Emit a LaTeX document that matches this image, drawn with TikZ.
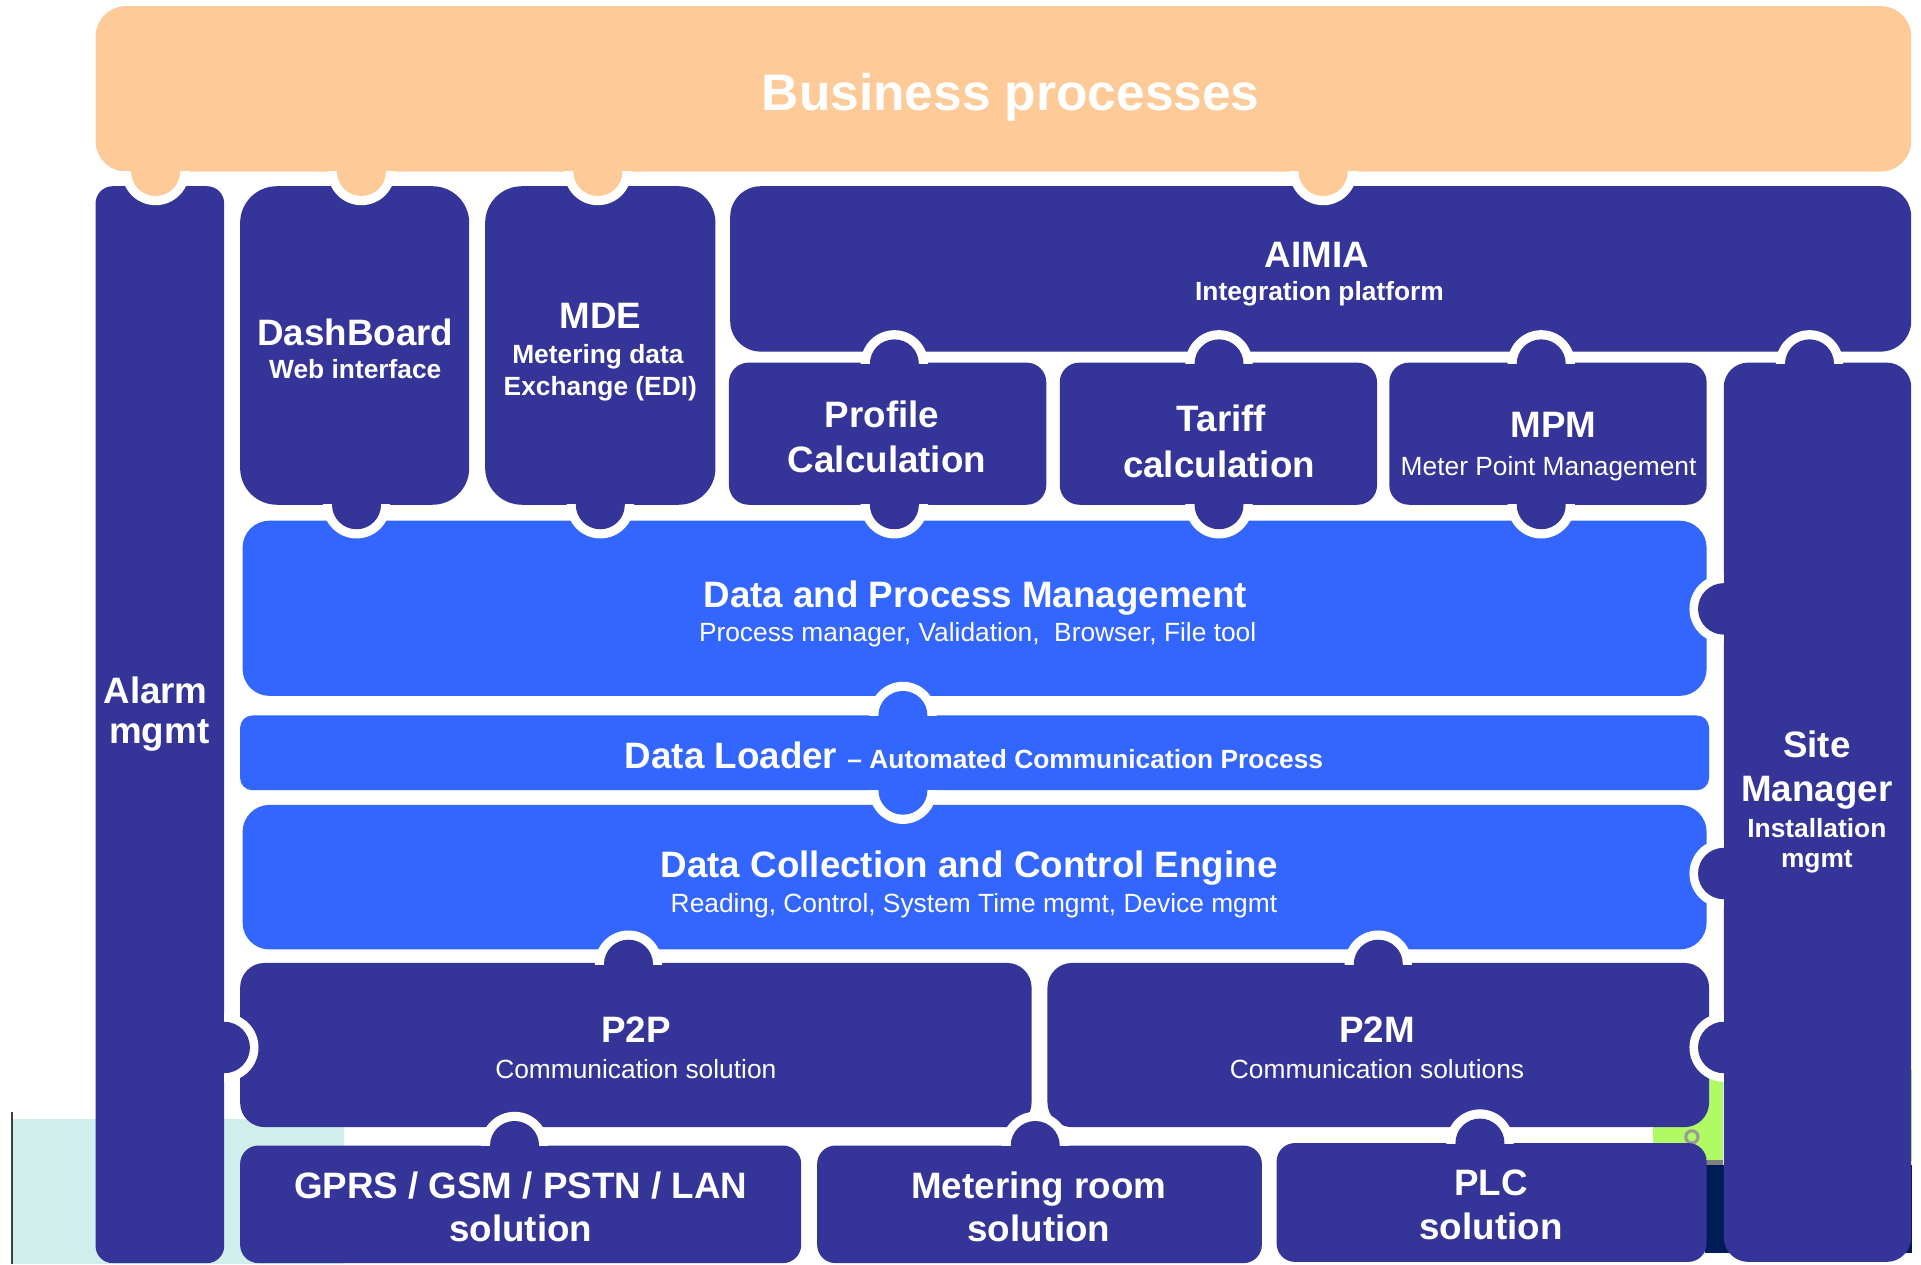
\documentclass[tikz,border=0pt]{standalone}
\usepackage{fontspec}
\setmainfont{Liberation Sans}
\definecolor{navy}{RGB}{53,52,152}
\definecolor{bblue}{RGB}{51,102,255}
\definecolor{peach}{RGB}{254,202,152}
\definecolor{lcyan}{RGB}{207,238,236}
\definecolor{lgreen}{RGB}{176,250,100}
\definecolor{dnavy}{RGB}{0,28,86}
\newcommand\fntHuge{\fontsize{42}{48}\selectfont\bfseries}
\newcommand\fntBig{\fontsize{30}{36}\selectfont\bfseries}
\newcommand\fntSub{\fontsize{21.5}{26}\selectfont\bfseries}
\newcommand\fntReg{\fontsize{21.5}{26}\selectfont}
% vertical knob: colour, x, edge y, far y (receiver side)
\newcommand\knobv[4]{%
  \begin{scope}\clip (#2-45,#3) rectangle (#2+45,#4);
    \fill[white] (#2,#3) circle[radius=27.5pt];\end{scope}
  \fill[#1] (#2,#3) circle[radius=20pt];}
% horizontal knob: colour, edge x, y, far x (receiver side)
\newcommand\knobh[4]{%
  \begin{scope}\clip (#2,#3-45) rectangle (#4,#3+45);
    \fill[white] (#2,#3) circle[radius=28pt];\end{scope}
  \fill[#1] (#2,#3) circle[radius=21pt];}
\begin{document}
\begin{tikzpicture}[x=1pt,y=-1pt,
  piece/.style={inner sep=0pt, outer sep=0pt, anchor=north west, draw=none},
  txt/.style={text=white, anchor=base, inner sep=0pt}]
\useasboundingbox (0,0) rectangle (1568,1032);
\fill[white] (0,0) rectangle (1568,1032);
% background remnants
\fill[lcyan] (10,913) rectangle (281,1032);
\draw[line width=1.5pt, black!75] (10,908) -- (10,1032);
\fill[lgreen] (1349,876) rectangle (1406,947);
\fill[lgreen] (1556,873) rectangle (1561,948);
\fill[gray] (1392,947) rectangle (1406,951);
\fill[dnavy] (1392,951) rectangle (1561,1023);
\draw[line width=2.5pt, gray!80] (1381,928) circle[radius=5pt];
% pieces
\node[piece, fill=peach, rounded corners=25pt, minimum width=1482pt, minimum height=135pt] (business) at (78,5) {};
\node[piece, fill=navy, rounded corners=14pt, minimum width=105pt, minimum height=879pt] (alarm) at (78,152) {};
\node[piece, fill=navy, rounded corners=30pt, minimum width=187pt, minimum height=260pt] (dash) at (196,152) {};
\node[piece, fill=navy, rounded corners=30pt, minimum width=188pt, minimum height=260pt] (mde) at (396,152) {};
\node[piece, fill=navy, rounded corners=25pt, minimum width=964pt, minimum height=135pt] (aimia) at (596,152) {};
\node[piece, fill=navy, rounded corners=16pt, minimum width=259pt, minimum height=116pt] (profile) at (595,296) {};
\node[piece, fill=navy, rounded corners=16pt, minimum width=259pt, minimum height=116pt] (tariff) at (865,296) {};
\node[piece, fill=navy, rounded corners=16pt, minimum width=259pt, minimum height=116pt] (mpm) at (1134,296) {};
\node[piece, fill=navy, rounded corners=20pt, minimum width=153pt, minimum height=734pt] (site) at (1407,296) {};
\node[piece, fill=bblue, rounded corners=22pt, minimum width=1195pt, minimum height=143pt] (dpm) at (198,425) {};
\node[piece, fill=bblue, rounded corners=10pt, minimum width=1199pt, minimum height=61pt] (loader) at (196,584) {};
\node[piece, fill=bblue, rounded corners=22pt, minimum width=1195pt, minimum height=118pt] (dcce) at (198,657) {};
\node[piece, fill=navy, rounded corners=20pt, minimum width=646pt, minimum height=134pt] (p2p) at (196,786) {};
\node[piece, fill=navy, rounded corners=20pt, minimum width=540pt, minimum height=134pt] (p2m) at (855,786) {};
\node[piece, fill=navy, rounded corners=15pt, minimum width=458pt, minimum height=96pt] (gprs) at (196,935) {};
\node[piece, fill=navy, rounded corners=15pt, minimum width=363pt, minimum height=96pt] (meter) at (667,935) {};
\node[piece, fill=navy, rounded corners=15pt, minimum width=351pt, minimum height=97pt] (plc) at (1042,933) {};
% knobs
\knobv{peach}{127}{140}{190}
\knobv{peach}{295}{140}{190}
\knobv{peach}{488}{140}{190}
\knobv{peach}{1080}{140}{190}
\knobv{navy}{291}{412}{460}
\knobv{navy}{490}{412}{460}
\knobv{navy}{730}{412}{460}
\knobv{navy}{995}{412}{460}
\knobv{navy}{1258}{412}{460}
\knobv{navy}{730}{297}{250}
\knobv{navy}{995}{297}{250}
\knobv{navy}{1258}{297}{250}
\knobv{navy}{1477}{297}{250}
\knobv{bblue}{737}{584}{540}
\knobv{bblue}{737}{645}{690}
\knobv{navy}{513}{787}{740}
\knobv{navy}{1125}{787}{740}
\knobv{navy}{420}{935}{880}
\knobv{navy}{845}{935}{880}
\knobv{navy}{1208}{933}{880}
\knobh{navy}{1407}{497}{1360}
\knobh{navy}{1407}{713}{1360}
\knobh{navy}{1407}{855}{1360}
\knobh{navy}{183}{855}{230}
% texts
\node[txt] (tbus) at (825,90) {\fntHuge Business processes};
\node[txt] (tal1) at (127,574) {\fntBig Alarm};
\node[txt] (tal2) at (130,607) {\fntBig mgmt};
\node[txt] (tda1) at (290,282) {\fntBig DashBoard};
\node[txt] (tda2) at (290,309) {\fntSub Web interface};
\node[txt] (tmd1) at (490,268) {\fntBig MDE};
\node[txt] (tmd2) at (488,297) {\fntSub Metering data};
\node[txt] (tmd3) at (490,323) {\fntSub Exchange (EDI)};
\node[txt] (tai1) at (1075,218) {\fntBig AIMIA};
\node[txt] (tai2) at (1077,245) {\fntSub Integration platform};
\node[txt] (tpr1) at (720,349) {\fntBig Profile};
\node[txt] (tpr2) at (724,386) {\fntBig Calculation};
\node[txt] (tta1) at (997,352) {\fntBig Tariff};
\node[txt] (tta2) at (995,390) {\fntBig calculation};
\node[txt] (tmp1) at (1268,357) {\fntBig MPM};
\node[txt] (tmp2) at (1264,388) {\fntReg Meter Point Management};
\node[txt] (tsi1) at (1483,618) {\fntBig Site};
\node[txt] (tsi2) at (1483,654) {\fntBig Manager};
\node[txt] (tsi3) at (1483,684) {\fntSub Installation};
\node[txt] (tsi4) at (1483,708) {\fntSub mgmt};
\node[txt] (tdp1) at (796,496) {\fntBig Data and Process Management};
\node[txt] (tdp2) at (798,524) {\fntReg Process manager, Validation,\ \ Browser, File tool};
\node[txt] (tlo) at (795,627) {\fntBig Data Loader \fntSub -- Automated Communication Process};
\node[txt] (tdc1) at (791,716) {\fntBig Data Collection and Control Engine};
\node[txt] (tdc2) at (795,745) {\fntReg Reading, Control, System Time mgmt, Device mgmt};
\node[txt] (tpp1) at (519,851) {\fntBig P2P};
\node[txt] (tpp2) at (519,880) {\fntReg Communication solution};
\node[txt] (tpm1) at (1124,851) {\fntBig P2M};
\node[txt] (tpm2) at (1124,880) {\fntReg Communication solutions};
\node[txt] (tgp1) at (425,978) {\fntBig GPRS / GSM / PSTN / LAN};
\node[txt] (tgp2) at (425,1013) {\fntBig solution};
\node[txt] (tme1) at (848,978) {\fntBig Metering room};
\node[txt] (tme2) at (848,1013) {\fntBig solution};
\node[txt] (tpl1) at (1217,976) {\fntBig PLC};
\node[txt] (tpl2) at (1217,1012) {\fntBig solution};
\end{tikzpicture}
\end{document}
